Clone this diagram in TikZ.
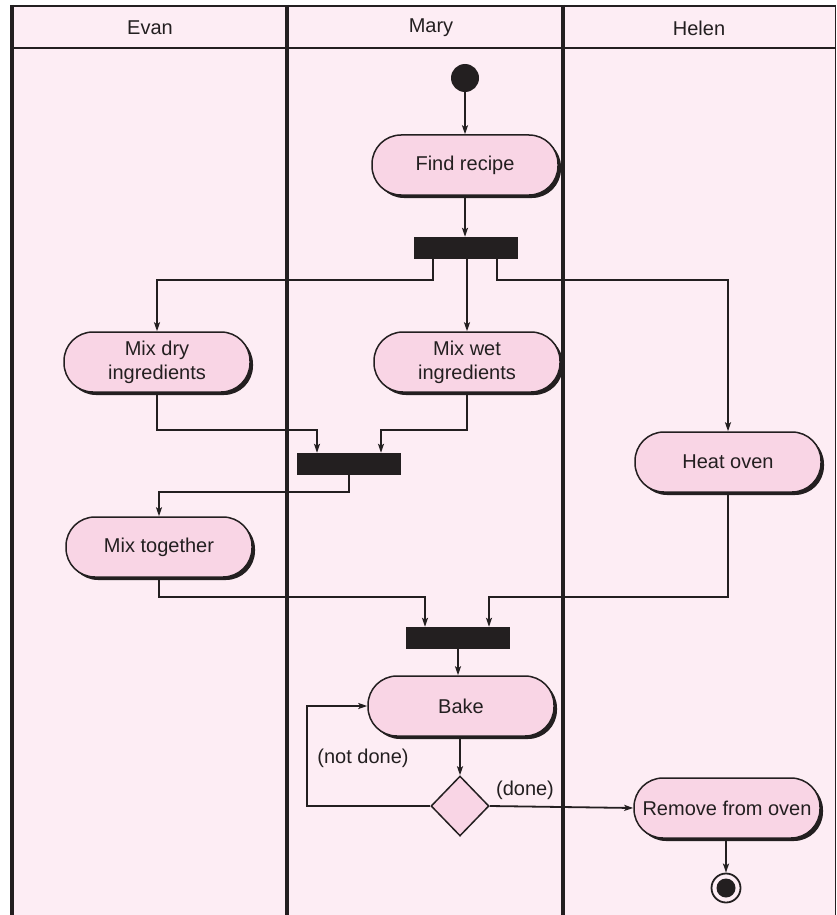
\documentclass[tikz,border=0pt]{standalone}
\usepackage{fontspec}
\setmainfont{Liberation Sans}
\usetikzlibrary{arrows.meta,shadows,shapes.geometric}
\definecolor{lanebg}{RGB}{253,237,244}
\definecolor{nodefill}{RGB}{249,213,229}
\definecolor{ink}{RGB}{35,31,32}
\begin{document}
\begin{tikzpicture}[x=1pt,y=-1pt,
  act/.style={draw=ink, line width=1.5pt, fill=nodefill, rounded corners=29pt,
    minimum width=186pt, minimum height=60pt, align=center, inner sep=2pt,
    font=\fontsize{20}{24}\selectfont, text=ink,
    drop shadow={shadow xshift=3pt, shadow yshift=-3pt, fill=ink, opacity=1}},
  forkbar/.style={fill=ink, draw=none, minimum width=104pt, minimum height=22pt, inner sep=0pt},
  flow/.style={draw=ink, line width=1.8pt, -{Stealth[length=9pt,width=6pt,inset=2pt]}},
  lanehead/.style={font=\fontsize{20}{24}\selectfont, text=ink},
  guard/.style={font=\fontsize{20}{24}\selectfont, text=ink, inner sep=0pt},
  laneline/.style={draw=ink, line width=4pt},
  rule/.style={draw=ink, line width=2pt}]
\useasboundingbox (0,0) rectangle (836,915);
\fill[white] (0,0) rectangle (836,915);
\fill[lanebg] (12,6) rectangle (835,915);
% lanes
\draw[rule] (12,6) -- (835,6);
\draw[rule] (12,48) -- (835,48);
\draw[laneline] (12,5) -- (12,915);
\draw[laneline] (287,5) -- (287,915);
\draw[laneline] (563,5) -- (563,915);
\draw[draw=ink, line width=1pt] (835,5) -- (835,915);
\node[lanehead] (hevan) at (150,28) {Evan};
\node[lanehead] (hmary) at (431,28) {Mary};
\node[lanehead] (hhelen) at (699,28) {Helen};
% nodes
\node[circle, fill=ink, minimum size=28pt, inner sep=0pt] (start) at (465,78) {};
\node[act] (find) at (465,165) {Find recipe};
\node[forkbar] (bar1) at (466,248) {};
\node[act] (mixdry) at (157,362) {Mix dry\\ingredients};
\node[act] (mixwet) at (467,362) {Mix wet\\ingredients};
\node[act] (heat) at (728,462) {Heat oven};
\node[forkbar] (bar2) at (349,464) {};
\node[act] (mixtog) at (159,547) {Mix together};
\node[forkbar] (bar3) at (458,638) {};
\node[act] (bake) at (461,706) {Bake};
\node[diamond, draw=ink, line width=1.5pt, fill=nodefill, minimum width=58pt, minimum height=60pt, inner sep=0pt, aspect=1] (dec) at (460,806) {};
\node[act, inner sep=1pt] (remove) at (727,808) {Remove from oven};
\node[circle, draw=ink, line width=1.8pt, fill=lanebg, minimum size=29pt, inner sep=0pt] (endo) at (726,888) {};
\node[circle, fill=ink, minimum size=19pt, inner sep=0pt] (endi) at (726,888) {};
\coordinate (loop) at (307,806);
% connectors
\draw[flow] (start) -- (find);
\draw[flow] (find) -- (find |- bar1.north);
\draw[flow] ([xshift=-33pt]bar1.south) -- ++(0,21) -| (mixdry.north);
\draw[flow] (bar1.south -| mixwet.north) -- (mixwet.north);
\draw[flow] ([xshift=31pt]bar1.south) -- ++(0,21) -| (heat.north);
\draw[flow] (mixdry.south) -- ++(0,37) -| ([xshift=-32pt]bar2.north);
\draw[flow] (mixwet.south) -- ++(0,37) -| ([xshift=32pt]bar2.north);
\draw[flow] (bar2.south) -- ++(0,17) -| (mixtog.north);
\draw[flow] (mixtog.south) -- ++(0,19) -| ([xshift=-33pt]bar3.north);
\draw[flow] (heat.south) -- ++(0,104) -| ([xshift=31pt]bar3.north);
\draw[flow] (bar3.south) -- (bar3.south |- bake.north);
\draw[flow] (bake.south -| dec.north) -- (dec.north);
\draw[flow] (dec.west) -- (loop) |- (bake.west);
\draw[flow] (dec.east) -- (remove.west);
\draw[flow] (remove.south -| endo.north) -- (endo.north);
% guards
\node[guard] (lnot) at (363,758) {(not done)};
\node[guard] (ldone) at (525,790) {(done)};
\end{tikzpicture}
\end{document}
